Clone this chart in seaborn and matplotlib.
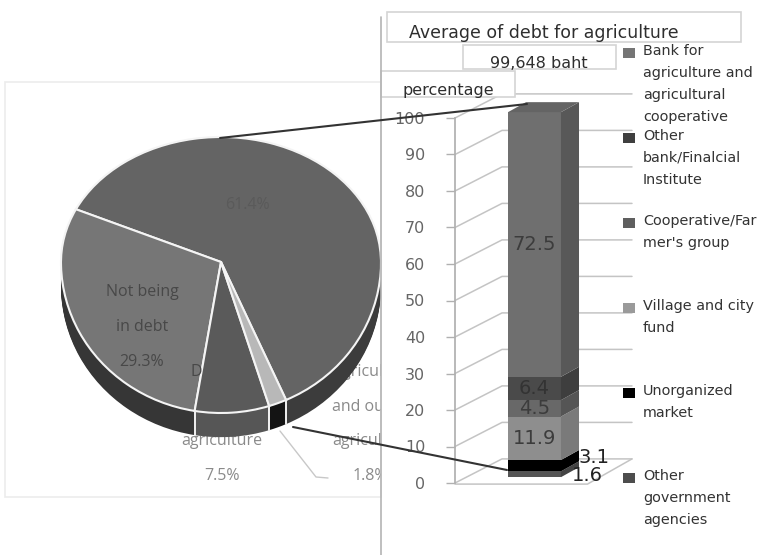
#!/usr/bin/env python3
"""Debt share pie with an exploded stacked bar for debt sources."""

import numpy as np
import pandas as pd
import seaborn as sns
import matplotlib.pyplot as plt
from matplotlib.patches import Rectangle

sns.set_theme(style="white")

# pie data
pie_labels = ["Debt in agriculture", "Not being in debt", "Debt outside agriculture", "Agriculture and outside agriculture"]
pie_values = [61.4, 29.3, 7.5, 1.8]
pie_colors = ["#646464", "#767676", "#5a5a5a", "#b8b8b8"]
pie_side_colors = ["#3c3c3c", "#363636", "#565656", "#141414"]

# stacked bar data, bottom to top
sources = ["Other government agencies", "Unorganized market", "Village and city fund",
           "Other bank", "Cooperative", "Bank for agriculture"]
shares = [1.6, 3.1, 11.9, 4.5, 6.4, 72.5]
share_colors = ["#555555", "#000000", "#8e8e8e", "#686868", "#4a4a4a", "#6f6f6f"]
share_side_colors = ["#444444", "#000000", "#7a7a7a", "#555555", "#3e3e3e", "#585858"]
share_labels = ["1.6", "3.1", "11.9", "4.5", "6.4", "72.5"]

y_ticks = [0, 10, 20, 30, 40, 50, 60, 70, 80, 90, 100]

legend_labels = [
    ("#757575", "Bank for\nagriculture and\nagricultural\ncooperative"),
    ("#3f3f3f", "Other\nbank/Finalcial\nInstitute"),
    ("#5f5f5f", "Cooperative/Far\nmer's group"),
    ("#9a9a9a", "Village and city\nfund"),
    ("#000000", "Unorganized\nmarket"),
    ("#4d4d4d", "Other\ngovernment\nagencies"),
]

W, H = 764, 555


def px_axes(fig, x0, y0, x1, y1):
    """Axes placed by its pixel box (y counted from the top)."""
    return fig.add_axes([x0 / W, 1 - y1 / H, (x1 - x0) / W, (y1 - y0) / H])


fig = plt.figure(figsize=(W / 100, H / 100), dpi=100, facecolor="white")

# ---- pie, tilted: front half stretched more than the back half
ax_pie = px_axes(fig, 0, 0, 381, H)
ax_pie.patch.set_alpha(0)
START = -66
DEPTH = 0.16

for d in np.linspace(DEPTH, 0.005, 24):
    ax_pie.pie(pie_values, colors=pie_side_colors, startangle=START, center=(0, -d), radius=1,
               wedgeprops={"linewidth": 0}, frame=True)
wedges, _ = ax_pie.pie(pie_values, colors=pie_colors, startangle=START, radius=1,
                       wedgeprops={"edgecolor": "#f4f4f4", "linewidth": 1.5}, frame=True)

# white seams on the rim between the front slices
for w in wedges[1:]:
    a = np.deg2rad(w.theta2)
    ax_pie.plot([np.cos(a)] * 2, [np.sin(a), np.sin(a) - DEPTH], color="#f0f0f0", lw=1.4, zorder=3)
a = np.deg2rad(wedges[3].theta1)
ax_pie.plot([np.cos(a)] * 2, [np.sin(a), np.sin(a) - DEPTH], color="#f0f0f0", lw=1.4, zorder=3)

ax_pie.set_aspect("auto")
ax_pie.set_yscale("function", functions=(
    lambda v: np.where(np.asarray(v) > 0, np.asarray(v) * 125.0, np.asarray(v) * 151.0),
    lambda v: np.where(np.asarray(v) > 0, np.asarray(v) / 125.0, np.asarray(v) / 151.0)))
ax_pie.set_xlim(-221 / 160, 160 / 160)
ax_pie.set_ylim(-(H - 262) / 151, 262 / 125)
ax_pie.set_xticks([])
ax_pie.set_yticks([])
ax_pie.minorticks_off()
for s in ax_pie.spines.values():
    s.set_visible(False)
ax_pie.set_zorder(2)

# ---- stacked bar with drawn depth
ax_bar = px_axes(fig, 455, 118, 632, 483)
ax_bar.patch.set_alpha(0)
ax_bar.set_zorder(3)
base = 1.6
df = pd.DataFrame({"cat": [""] * len(shares), "share": shares})
df["bottom"] = base + df["share"].cumsum().shift(fill_value=0)

for i, row in df.iterrows():
    sns.barplot(x=[row["cat"]], y=[row["share"]], bottom=row["bottom"], width=1, color=share_colors[i],
                saturation=1, errorbar=None, ax=ax_bar, zorder=4, linewidth=0, clip_on=False)

ax_bar.set_xlim(-1.5, 1.84)
ax_bar.set_ylim(0, 100)

# side and top faces of the bar, from the same values
sx, sy = 0.34, 2.74
for i, row in df.iterrows():
    b, t = row["bottom"], row["bottom"] + row["share"]
    ax_bar.fill([0.5, 0.5 + sx, 0.5 + sx, 0.5], [b, b + sy, t + sy, t], color=share_side_colors[i],
                lw=0, zorder=4, clip_on=False)
top = df["bottom"].iloc[-1] + shares[-1]
ax_bar.fill([-0.5, 0.5, 0.5 + sx, -0.5 + sx], [top, top, top + sy, top + sy], color="#646464",
            lw=0, zorder=4, clip_on=False)

# walls and floor
wx, wy = 0.887, 6.6
grid_col = "#c4c4c4"
for t in y_ticks:
    ax_bar.plot([-1.5, -1.5 + wx, 1.84], [t, t + wy, t + wy], color=grid_col, lw=1.1, zorder=1, clip_on=False)
ax_bar.plot([-1.5, 1.0, 1.84], [-0.3, -0.3, wy], color=grid_col, lw=1.1, zorder=1, clip_on=False)

ax_bar.set_yticks(y_ticks)
ax_bar.set_xticks([])
ax_bar.set_xlabel("")
ax_bar.set_ylabel("")
ax_bar.tick_params(axis="y", left=True, length=6.5, width=1, color="#b0b0b0", pad=15,
                   labelsize=11.5, labelcolor="#666666")
sns.despine(ax=ax_bar, bottom=True)
ax_bar.spines["left"].set_color("#b0b0b0")

# value labels
label_x = [1.0, 1.13, 0, 0, 0, 0]
for i, row in df.iterrows():
    mid = row["bottom"] + row["share"] / 2
    if i == 0:
        mid = 2.0
    if i == 1:
        mid = 7.0
    col = "#3c3c3c" if i >= 2 else "#222222"
    if i == 4:
        col = "#333333"
    ax_bar.text(label_x[i], mid, share_labels[i], ha="center", va="center", fontsize=14, color=col,
                zorder=6, clip_on=False)

# ---- overlay in pixel coordinates: frame, boxes, legend, connectors
ax_bg = fig.add_axes([0, 0, 1, 1], zorder=0)
ax_bg.set_xlim(0, W)
ax_bg.set_ylim(H, 0)
ax_bg.axis("off")
ax_bg.add_patch(Rectangle((5, 82), 376, 415, fc="none", ec="#ececec", lw=1.2))

# labels that sit behind the pie, cut off by the right panel
ax_lab = px_axes(fig, 0, 0, 381, H)
ax_lab.set_xlim(0, 381)
ax_lab.set_ylim(H, 0)
ax_lab.axis("off")
ax_lab.set_zorder(1)
soft = {"family": "Open Sans", "fontsize": 11.5, "color": "#8a8a8a", "va": "center", "clip_on": True}
ax_lab.text(222, 441, "agriculture", ha="center", **soft)
ax_lab.text(222, 476, "7.5%", ha="center", **soft)
ax_lab.text(332, 372, "Agricul", ha="left", **soft)
ax_lab.text(332, 407, "and ou", ha="left", **soft)
ax_lab.text(332, 441, "agricul", ha="left", **soft)
ax_lab.text(353, 476, "1.8%", ha="left", **soft)
ax_lab.plot([280, 316, 328], [431, 477, 478], color="#c8c8c8", lw=1)

ax_top = fig.add_axes([0, 0, 1, 1], zorder=5)
ax_top.patch.set_alpha(0)
ax_top.set_xlim(0, W)
ax_top.set_ylim(H, 0)
ax_top.axis("off")

on_pie = {"family": "Open Sans", "fontsize": 11.5, "color": "#484848", "ha": "center", "va": "center"}
ax_top.text(142, 292, "Not being", **on_pie)
ax_top.text(142, 327, "in debt", **on_pie)
ax_top.text(142, 362, "29.3%", **on_pie)
ax_top.text(196, 372, "D", **on_pie)
ax_top.text(247, 205, "61.4%", family="Open Sans", fontsize=11.5, color="#5a5a5a", ha="center", va="center")

ax_top.plot([381, 381], [17, H], color="#b4b4b4", lw=1.2)
for (x, y, w, h, txt, tx, ty, fs) in [
    (387, 12, 354, 30, "Average of debt for agriculture", 544, 33, 12.5),
    (463, 45, 153, 24, "99,648 baht", 539, 63, 11.5),
    (381, 71, 134, 26, "percentage", 448, 90, 11.5),
]:
    ax_top.add_patch(Rectangle((x, y), w, h, fc="white", ec="#d4d4d4", lw=1.2))
    ax_top.text(tx, ty, txt, fontsize=fs, color="#2e2e2e", ha="center", va="center")

for i, (col, txt) in enumerate(legend_labels):
    y = 51 + 85 * i
    ax_top.add_patch(Rectangle((623, y - 3), 12, 10, fc=col, ec="none"))
    ax_top.text(643, y - 7, txt, fontsize=10.4, color="#333333", ha="left", va="top", linespacing=1.72)

ax_top.plot([220, 527], [138, 104], color="#333333", lw=1.5)
ax_top.plot([293, 507], [427, 470], color="#333333", lw=1.5)

fig.savefig("out.png", dpi=100, facecolor="white")
